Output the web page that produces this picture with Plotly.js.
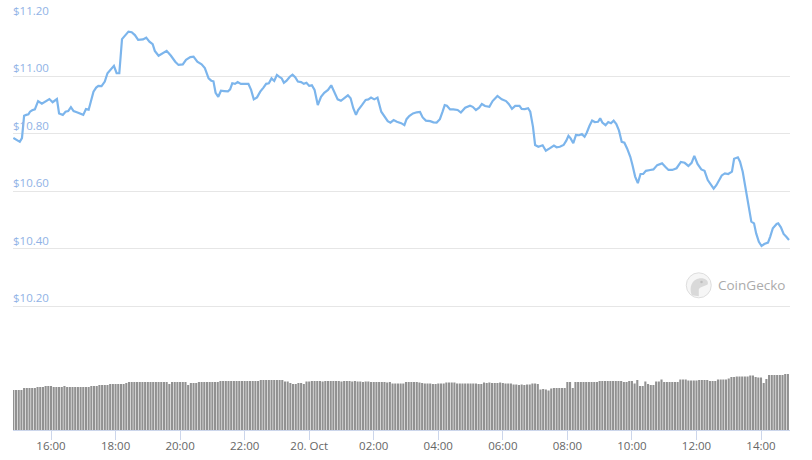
<!DOCTYPE html>
<html>
<head>
<meta charset="utf-8">
<script src="https://cdn.plot.ly/plotly-3.0.1.min.js"></script>
<style>
  html, body { margin: 0; padding: 0; background: #ffffff; }
  #chart { width: 812px; height: 460px; }
</style>
</head>
<body>
<div id="chart"></div>
<script>
// ---- Price series (USD); times on 19/20 Oct ----
const priceTimes = [
  "14:50","14:57","15:02","15:06","15:10","15:14","15:18","15:21","15:25","15:30",
  "15:36","15:43","15:49","15:57","16:03","16:11","16:15","16:22","16:27","16:32",
  "16:37","16:42","16:48","16:54","17:00","17:05","17:10","17:14","17:19","17:24",
  "17:28","17:34","17:40","17:45","17:51","17:57","18:02","18:07","18:12","18:18",
  "18:24","18:30","18:36","18:42","18:51","18:57","19:03","19:09","19:13","19:20",
  "19:26","19:35","19:43","19:51","19:57","20:05","20:11","20:19","20:25","20:32",
  "20:40","20:46","20:53","20:58","21:02","21:06","21:11","21:16","21:22","21:29",
  "21:33","21:37","21:42","21:47","21:53","22:01","22:07","22:12","22:17","22:23",
  "22:29","22:35","22:40","22:45","22:50","22:55","23:00","23:04","23:09","23:13",
  "23:18","23:24","23:29","23:34","23:39","23:45","23:50","23:55","00:00","00:05",
  "00:10","00:16","00:22","00:28","00:35","00:41","00:47","00:53","00:59","01:05",
  "01:12","01:17","01:22","01:27","01:31","01:38","01:45","01:50","01:55","02:01",
  "02:07","02:14","02:20","02:26","02:31","02:37","02:43","02:51","02:57","03:01",
  "03:06","03:13","03:20","03:26","03:31","03:37","03:45","03:51","03:57","04:03",
  "04:08","04:12","04:16","04:22","04:28","04:36","04:42","04:50","04:59","05:04",
  "05:10","05:16","05:21","05:27","05:35","05:41","05:50","05:58","06:06","06:11",
  "06:17","06:23","06:31","06:35","06:41","06:47","06:51","06:56","07:00","07:06",
  "07:14","07:20","07:27","07:35","07:40","07:46","07:53","07:58","08:02","08:06",
  "08:11","08:16","08:22","08:27","08:32","08:36","08:41","08:46","08:51","08:57",
  "09:01","09:05","09:11","09:16","09:21","09:26","09:31","09:36","09:41","09:46",
  "09:51","09:57","10:01","10:06","10:11","10:16","10:21","10:26","10:34","10:40",
  "10:47","10:56","11:02","11:08","11:15","11:23","11:31","11:38","11:45","11:51",
  "11:56","12:02","12:09","12:15","12:21","12:27","12:32","12:37","12:42","12:47",
  "12:53","12:59","13:06","13:10","13:17","13:21","13:26","13:32","13:37","13:42",
  "13:47","13:51","13:56","14:01","14:06","14:13","14:17","14:22","14:29","14:32",
  "14:37","14:42","14:47","14:52"
];
const prices = [
  10.786,10.778,10.772,10.785,10.863,10.866,10.868,10.877,10.882,10.885,
  10.914,10.905,10.912,10.921,10.910,10.921,10.871,10.866,10.877,10.879,
  10.893,10.879,10.875,10.870,10.866,10.886,10.884,10.912,10.947,10.961,
  10.967,10.966,10.982,11.011,11.025,11.037,11.011,11.011,11.130,11.144,
  11.156,11.154,11.144,11.127,11.129,11.135,11.121,11.112,11.089,11.072,
  11.080,11.089,11.072,11.051,11.040,11.042,11.058,11.067,11.069,11.051,
  11.042,11.029,10.993,10.985,10.983,10.943,10.929,10.950,10.949,10.948,
  10.955,10.976,10.974,10.980,10.974,10.974,10.974,10.953,10.920,10.927,
  10.947,10.961,10.974,10.976,10.993,10.984,11.005,10.999,10.993,10.978,
  10.985,10.999,11.006,10.997,10.982,10.980,10.974,10.978,10.967,10.969,
  10.953,10.900,10.929,10.943,10.953,10.969,10.941,10.920,10.915,10.924,
  10.934,10.924,10.889,10.866,10.883,10.900,10.918,10.920,10.926,10.920,
  10.926,10.877,10.860,10.844,10.839,10.848,10.842,10.837,10.830,10.851,
  10.862,10.871,10.875,10.876,10.857,10.846,10.844,10.840,10.839,10.851,
  10.877,10.900,10.898,10.885,10.885,10.883,10.874,10.891,10.898,10.894,
  10.883,10.891,10.904,10.897,10.894,10.914,10.932,10.920,10.914,10.904,
  10.887,10.897,10.897,10.887,10.886,10.889,10.877,10.825,10.761,10.755,
  10.760,10.741,10.749,10.759,10.753,10.755,10.761,10.776,10.793,10.784,
  10.767,10.796,10.795,10.799,10.790,10.804,10.827,10.846,10.841,10.842,
  10.854,10.839,10.830,10.841,10.837,10.846,10.834,10.811,10.772,10.769,
  10.749,10.720,10.691,10.651,10.628,10.660,10.660,10.671,10.674,10.676,
  10.691,10.697,10.685,10.674,10.674,10.680,10.702,10.699,10.688,10.699,
  10.723,10.695,10.676,10.671,10.639,10.622,10.609,10.621,10.639,10.655,
  10.662,10.660,10.668,10.713,10.718,10.703,10.668,10.604,10.546,10.494,
  10.488,10.453,10.424,10.409,10.416,10.421,10.441,10.471,10.486,10.488,
  10.474,10.451,10.441,10.430
];

// ---- Volume bars, one per 5 minutes from 14:50 on 19 Oct (arbitrary units) ----
const volumeStart = "2019-10-19 14:50";
const volumeStepMinutes = 5;
const volumes = [
  40,40,40,40,42,42,42,42,42,43,43,43,
  44,44,44,43,43,43,43,44,43,43,43,43,
  43,43,43,43,43,44,44,44,45,45,45,45,
  46,46,46,46,46,46,47,48,48,48,48,48,
  48,48,48,48,48,48,48,48,48,48,46,48,
  48,48,48,48,48,45,47,47,47,48,48,48,
  48,48,48,48,48,49,49,49,49,49,49,49,
  49,49,49,49,49,49,49,49,50,50,50,50,
  50,50,50,50,50,48.5,48.5,47,46,46,47,47,
  46,48.5,48.5,49,49,49,49,48.5,49,49,49,49,
  49,49,48.5,49,49,49,48.5,49,48.5,48.5,48,48.5,
  48.5,48,48,48,48,48,48,47.5,48,46.5,46.5,46.5,
  46.5,46.5,48,48,48,48,48,47.5,47,46.5,46.5,46.5,
  46,46,46.5,46.5,46.5,47.5,47.5,47.5,47.5,46.5,46.5,46.5,
  46.5,46.5,46.5,46.5,46.5,46,46,47.5,47,47.5,47,47,
  47,47.5,47,46.5,46.5,46.5,45.5,45.5,45,45.5,45,45.5,
  45.5,46.5,46.5,46,40.5,41,40.5,39.5,41.5,42,42,42,
  42,42,48,48,42,48,48,48,48,48,48,48,
  48,48,49,49,49,49,49,49,49,49,49,48,
  48,49,49,46.5,50,44,44,48.5,46,45,45,48.5,
  48.5,50.5,48,48,48,48,48,48,50.5,50.5,50.5,49.5,
  49.5,49.5,49.5,50,50,50,50,49,49,49,50.5,50.5,
  50.5,50.5,51.5,53,53,53.5,53.5,53.5,53.5,53.5,54.5,54.5,
  53,52.5,52.5,47,51,55,55,55,55,55,55,56,
  56
];

// ---- Axis ticks ----
const xTickTimes = [
  "2019-10-19 16:00","2019-10-19 18:00","2019-10-19 20:00","2019-10-19 22:00",
  "2019-10-20 00:00","2019-10-20 02:00","2019-10-20 04:00","2019-10-20 06:00",
  "2019-10-20 08:00","2019-10-20 10:00","2019-10-20 12:00","2019-10-20 14:00"
];
const xTickLabels = ["16:00","18:00","20:00","22:00","20. Oct","02:00","04:00","06:00","08:00","10:00","12:00","14:00"];
const yTickValues = [10.2, 10.4, 10.6, 10.8, 11.0, 11.2];
const yTickLabels = ["$10.20","$10.40","$10.60","$10.80","$11.00","$11.20"];
const xRange = ["2019-10-19 14:49:21", "2019-10-20 14:53:54"];
const yRange = [10.19, 11.2];

// ---- helpers ----
function pad(n) { return (n < 10 ? "0" : "") + n; }
function withDates(list, startDay) {
  let day = startDay, prev = -1;
  return list.map(function (t) {
    const p = t.split(":");
    const m = (+p[0]) * 60 + (+p[1]);
    if (m < prev) day += 1;
    prev = m;
    return "2019-10-" + pad(day) + " " + t;
  });
}
function volumeTimes(start, step, n) {
  const d0 = +start.slice(8, 10);
  const hm = start.slice(11).split(":");
  const base = (+hm[0]) * 60 + (+hm[1]);
  const out = [];
  for (let i = 0; i < n; i++) {
    const tot = base + i * step;
    const day = d0 + Math.floor(tot / 1440);
    const mm = tot % 1440;
    out.push("2019-10-" + pad(day) + " " + pad(Math.floor(mm / 60)) + ":" + pad(mm % 60));
  }
  return out;
}

const FONT = '"Open Sans", "Noto Sans", "DejaVu Sans", sans-serif';

const traces = [
  {
    type: "bar",
    x: volumeTimes(volumeStart, volumeStepMinutes, volumes.length),
    y: volumes,
    xaxis: "x", yaxis: "y2",
    marker: { color: "#919191", line: { width: 0 } },
    hoverinfo: "skip"
  },
  {
    type: "scatter",
    mode: "lines",
    x: withDates(priceTimes, 19),
    y: prices,
    xaxis: "x", yaxis: "y",
    line: { color: "#7cb5ec", width: 2.2 },
    hoverinfo: "skip"
  }
];

const layout = {
  width: 812, height: 460,
  margin: { l: 13, r: 22, t: 19, b: 30, pad: 0 },
  paper_bgcolor: "#ffffff", plot_bgcolor: "#ffffff",
  showlegend: false,
  bargap: 0.22,
  font: { family: FONT },
  xaxis: {
    type: "date", range: xRange, anchor: "y2",
    showgrid: false, zeroline: false,
    showline: true, linecolor: "#ccd6eb", linewidth: 1,
    ticks: "outside", ticklen: 9, tickcolor: "#ccd6eb", tickwidth: 1,
    tickmode: "array", tickvals: xTickTimes, ticktext: xTickLabels,
    ticklabelstandoff: -4,
    tickfont: { family: FONT, size: 11.5, color: "#666666" },
    fixedrange: true
  },
  yaxis: {
    domain: [0.2947, 1], range: yRange, anchor: "x",
    tickmode: "array", tickvals: yTickValues, ticktext: yTickLabels,
    ticklabelposition: "inside top", ticklabeloverflow: "allow",
    ticklabelstandoff: -3,
    showgrid: true, gridcolor: "#e6e6e6", gridwidth: 1,
    zeroline: false, showline: false, ticks: "",
    tickfont: { family: FONT, size: 11.5, color: "#90b2e6" },
    fixedrange: true
  },
  yaxis2: {
    domain: [0, 0.2433], range: [0, 100], anchor: "x",
    visible: false, showgrid: false, zeroline: false, fixedrange: true
  },
  shapes: [
    { type: "circle", xref: "paper", yref: "paper", xsizemode: "pixel", ysizemode: "pixel",
      xanchor: 0.8826, yanchor: 0.352, x0: -12.5, x1: 12.5, y0: -12.5, y1: 12.5,
      fillcolor: "#f6f6f6", line: { color: "#dedede", width: 1 } },
    { type: "path", xref: "paper", yref: "paper", xsizemode: "pixel", ysizemode: "pixel",
      xanchor: 0.8826, yanchor: 0.352,
      path: "M -7 -10 C -10 -2, -7 6, 1 7 C 6 7.5, 10 5, 9 1 C 6 -1, 2 -1, 0 -4 L 0 -11 Z",
      fillcolor: "#d9d9d9", line: { width: 0 } },
    { type: "circle", xref: "paper", yref: "paper", xsizemode: "pixel", ysizemode: "pixel",
      xanchor: 0.8826, yanchor: 0.352, x0: 1.5, x1: 4, y0: 2, y1: 4.5,
      fillcolor: "#bdbdbd", line: { width: 0 } }
  ],
  annotations: [
    { text: "CoinGecko", xref: "paper", yref: "paper", x: 0.9046, y: 0.352,
      xanchor: "left", yanchor: "middle", showarrow: false,
      font: { family: FONT, size: 13.5, color: "#ababab" } }
  ]
};

Plotly.newPlot("chart", traces, layout, { displayModeBar: false, staticPlot: true });
</script>
</body>
</html>
